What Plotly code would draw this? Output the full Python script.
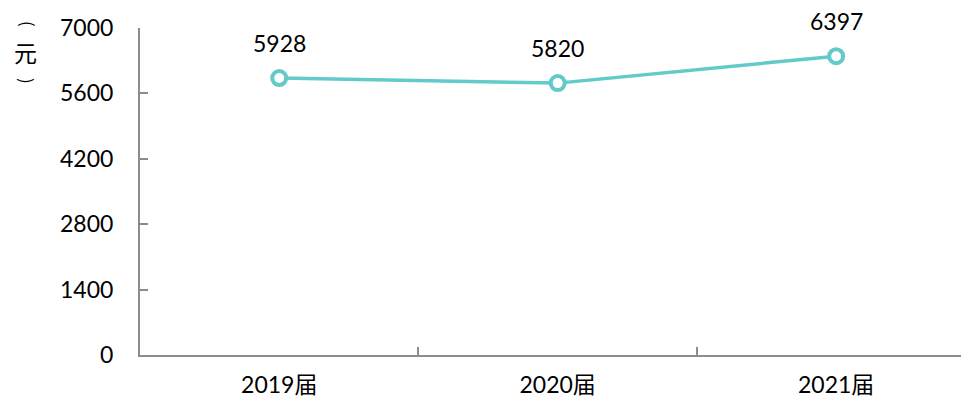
import plotly.graph_objects as go

categories = ["2019届", "2020届", "2021届"]
values = [5928, 5820, 6397]
y_ticks = [0, 1400, 2800, 4200, 5600, 7000]

teal = "#62CBC9"
axis_gray = "#8C8C8C"
font_family = "Lato, 'Noto Sans CJK SC', sans-serif"
cjk = "'Noto Sans CJK SC', sans-serif"

# page body has an 8px margin, so the figure is drawn offset by (8, 8)
OFF = 8
W, H = 969 - OFF, 405 - OFF
plot_l, plot_top, plot_bottom = 140 - OFF, 28 - OFF, 355 - OFF
plot_w, plot_h = W - plot_l, plot_bottom - plot_top

fig = go.Figure()
fig.add_trace(go.Scatter(
    x=categories, y=values, mode="lines+markers",
    line=dict(color=teal, width=3.5),
    marker=dict(symbol="circle", size=14, color="white",
                line=dict(color=teal, width=4)),
    hoverinfo="skip", showlegend=False,
))

for c, v in zip(categories, values):
    fig.add_annotation(x=c, y=v, text=str(v), showarrow=False, yshift=35,
                       font=dict(size=23, color="#000000", family=font_family))

def px(x, y):
    # page pixel -> paper coords
    return (x - OFF - plot_l) / plot_w, (plot_bottom - (y - OFF)) / plot_h

for ch, (gx, gy), ang, sz in [("(", (28, 24), 90, 17), ("元", (25, 52), 0, 23),
                              (")", (28, 81), 90, 17)]:
    ax, ay = px(gx, gy)
    fig.add_annotation(xref="paper", yref="paper", x=ax, y=ay, text=ch,
                       showarrow=False, xanchor="center", yanchor="middle",
                       textangle=ang,
                       font=dict(size=sz, color="#000000", family=cjk))

fig.update_layout(
    width=W, height=H,
    margin=dict(l=plot_l, r=0, t=plot_top, b=H - plot_bottom, autoexpand=False),
    paper_bgcolor="white", plot_bgcolor="white",
    font=dict(family=font_family, size=23, color="#000000"),
    xaxis=dict(type="category", range=[-0.5, 2.477], tickson="boundaries",
               ticks="inside", ticklen=8, tickwidth=1.5, tickcolor=axis_gray,
               showline=True, linecolor=axis_gray, linewidth=2,
               showgrid=False, zeroline=False, ticklabelstandoff=8,
               automargin=False, tickfont=dict(size=23)),
    yaxis=dict(range=[0, 7000], tickvals=y_ticks, ticks="inside", ticklen=8,
               tickwidth=1.5, tickcolor=axis_gray,
               showline=True, linecolor=axis_gray, linewidth=2,
               showgrid=False, zeroline=False, ticklabelstandoff=20,
               automargin=False, tickfont=dict(size=23)),
)

fig.write_html("out.html")
